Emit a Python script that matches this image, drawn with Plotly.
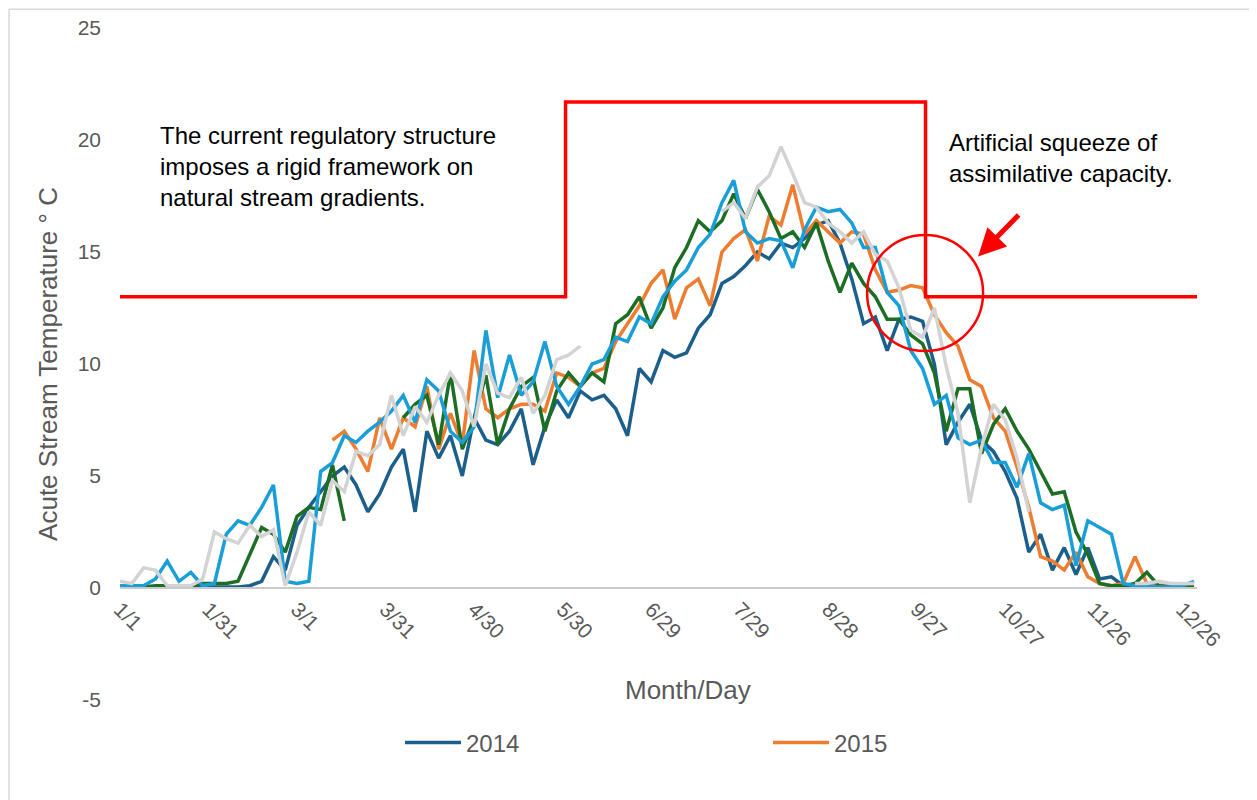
import plotly.graph_objects as go

# ---- data ----
days = list(range(0, 365, 4))  # day of year, 0 = 1/1

tick_days = [0, 30, 60, 90, 120, 150, 180, 210, 240, 270, 300, 330, 360]
tick_labels = ['1/1', '1/31', '3/1', '3/31', '4/30', '5/30', '6/29', '7/29',
               '8/28', '9/27', '10/27', '11/26', '12/26']
y_ticks = [-5, 0, 5, 10, 15, 20, 25]
y_tick_labels = ['-5', '0', '5', '10', '15', '20', '25']

temp_2014 = [0.05]*11 + [
    0.1, 0.3, 1.4, 0.8, 2.8, 3.6, 4.3, 5.0, 5.4, 4.6, 3.4, 4.2, 5.4, 6.2, 3.4, 7.0,
    5.8, 6.8, 5.0, 7.6, 6.6, 6.4, 7.0, 8.0, 5.5, 7.2, 8.4, 7.6, 8.8, 8.4, 8.6, 8.0,
    6.8, 9.8, 9.2, 10.6, 10.3, 10.5, 11.6, 12.2, 13.6, 13.9, 14.4, 15.0, 14.7, 15.4,
    15.2, 15.6, 16.2, 16.4, 15.4, 13.8, 11.8, 12.1, 10.6, 12.0, 12.1, 11.9, 10.0,
    6.4, 7.4, 8.2, 6.6, 6.1, 5.2, 4.0, 1.6, 2.4, 0.8, 1.8, 0.6, 1.8, 0.4, 0.5] + [0.1]*7

temp_2015 = [None]*18 + [
    6.6, 7.0, 6.2, 5.2, 7.6, 6.2, 7.6, 7.2, 9.0, 6.2, 7.8, 6.4, 10.6, 8.0, 7.6, 8.0,
    8.2, 8.2, 7.9, 9.6, 9.4, 9.0, 9.6, 9.8, 11.0, 11.8, 12.6, 13.6, 14.2, 12.0, 13.4,
    13.8, 12.6, 15.0, 15.6, 16.0, 14.6, 16.6, 16.2, 18.0, 15.8, 16.4, 15.9, 15.4,
    15.9, 15.8, 14.2, 13.2, 13.3, 13.5, 13.4, 12.2, 11.4, 10.8, 9.3, 9.0, 7.6, 7.0,
    5.4, 3.6, 1.4, 1.2, 0.8, 1.6, 0.5, 0.2, 0.1, 0.2, 1.4, 0.2, 0.1, 0.2, 0.1, 0.1]

temp_green = [
    0.05, 0.05, 0.05, 0.1, 0.1, 0.1, 0.1, 0.2, 0.2, 0.2, 0.3, 1.5, 2.7, 2.4, 1.6, 3.2,
    3.6, 3.5, 5.5, 3.0, None, None, None, None, 7.6, 8.2, 8.6, 6.4, 9.6, 6.2, 7.6, 9.5,
    6.4, 8.0, 9.0, 9.4, 7.0, 8.8, 9.6, 9.0, 9.6, 9.2, 11.8, 12.2, 13.0, 11.6, 12.5,
    14.3, 15.2, 16.4, 15.9, 16.4, 17.6, 16.5, 17.8, 16.8, 15.6, 15.9, 15.2, 16.3,
    14.6, 13.2, 14.5, 13.6, 13.0, 12.0, 12.0, 11.3, 10.9, 9.6, 7.0, 8.9, 8.9, 6.0,
    7.3, 8.0, 7.0, 6.2, 5.2, 4.2, 4.3, 2.5, 1.5, 0.2, 0.1, 0.1, 0.2, 0.7, 0.1, 0.05,
    0.05, 0.05]

temp_lightblue = [
    0.1, 0.1, 0.1, 0.4, 1.2, 0.3, 0.7, 0.1, 0.2, 2.4, 3.0, 2.8, 3.6, 4.6, 0.3, 0.2,
    0.3, 5.2, 5.6, 6.8, 6.5, 7.0, 7.4, 7.9, 8.6, 7.4, 9.3, 8.8, 7.0, 6.5, 7.2, 11.5,
    8.5, 10.4, 8.6, 9.2, 11.0, 9.0, 8.2, 9.0, 10.0, 10.2, 11.2, 11.0, 12.1, 11.8,
    13.0, 13.7, 14.2, 15.2, 15.8, 17.2, 18.2, 15.9, 15.4, 15.6, 15.5, 14.3, 16.0,
    17.0, 16.8, 16.9, 16.3, 15.2, 15.2, 13.2, 12.6, 10.6, 9.8, 8.2, 8.6, 6.7, 6.4,
    6.6, 5.6, 5.6, 4.5, 6.0, 3.8, 3.5, 3.7, 1.0, 3.0, 2.7, 2.4, 0.2, 0.1, 0.1, 0.05,
    0.05, 0.1, 0.3]

temp_gray = [
    0.3, 0.2, 0.9, 0.8, 0.1, 0.1, 0.1, 0.4, 2.5, 2.2, 2.0, 2.8, 2.3, 2.6, 0.1, 1.6,
    3.4, 2.8, 4.8, 4.3, 6.1, 5.9, 6.4, 8.6, 6.8, 8.1, 7.4, 8.6, 9.6, 8.8, 7.2, 10.0,
    8.7, 8.5, 9.4, 7.8, 8.6, 10.2, 10.4, 10.8] + [None]*11 + [
    16.8, 17.2, 16.5, 17.9, 18.4, 19.7, 18.5, 17.2, 17.0, 16.3, 15.9, 15.4, 15.9,
    14.9, 14.6, 13.4, 11.5, 11.2, 12.5, 9.9, 7.8, 3.8, 6.3, 8.2, 7.5, 5.8, 3.4] + \
    [None]*8 + [0.2, 0.2, 0.3, 0.2, 0.2, 0.2]

limit_days = [0, 151, 151, 273, 273, 365]
limit_vals = [13, 13, 21.7, 21.7, 13, 13]

series = [
    ('2014', temp_2014, '#1b5f8a', True),
    ('2015', temp_2015, '#ed7d31', True),
    ('Series 3', temp_green, '#1c6e24', False),
    ('Series 4', temp_lightblue, '#1a9ed8', False),
    ('Series 5', temp_gray, '#d3d3d3', False),
]

FONT = 'Liberation Sans, Arial, sans-serif'
GREY_TXT = '#595959'

fig = go.Figure()
for name, vals, color, show in series:
    fig.add_trace(go.Scatter(x=days, y=vals, mode='lines', name=name,
                             line=dict(color=color, width=3.5),
                             showlegend=show, connectgaps=False))

fig.add_trace(go.Scatter(x=limit_days, y=limit_vals, mode='lines',
                         line=dict(color='#ff0000', width=3.5),
                         showlegend=False))

fig.update_layout(
    width=1249, height=792,
    margin=dict(l=112, r=60, t=20, b=100, autoexpand=False),
    paper_bgcolor='white', plot_bgcolor='white',
    font=dict(family=FONT, color=GREY_TXT),
    legend=dict(orientation='h', x=0.26, y=-0.064, xanchor='left', yanchor='middle',
                entrywidth=297, entrywidthmode='pixels', itemwidth=56,
                bgcolor='rgba(0,0,0,0)',
                font=dict(size=24, color=GREY_TXT, family=FONT)),
    xaxis=dict(range=[0, 365], tickvals=tick_days, ticktext=tick_labels,
               tickangle=45, showgrid=False, zeroline=False,
               showline=True, linecolor='#c9c9c9', linewidth=2,
               anchor='free', position=1/6, ticks='',
               tickfont=dict(size=21, color=GREY_TXT, family=FONT)),
    yaxis=dict(range=[-5, 25], tickvals=y_ticks, ticktext=y_tick_labels,
               showgrid=False, zeroline=False, showline=False, ticks='',
               ticklabelstandoff=18,
               tickfont=dict(size=21, color=GREY_TXT, family=FONT),
               title=dict(text='Acute Stream Temperature ° C', standoff=12,
                          font=dict(size=26, color=GREY_TXT, family=FONT))),
)

# circle highlighting the squeeze
fig.add_shape(type='circle', xref='x', yref='y', x0=253.2, x1=292.5, y0=10.58, y1=15.76,
              line=dict(color='#ff0000', width=2.5))

# chart border
fig.add_shape(type='rect', xref='paper', yref='paper', x0=-0.103, x1=1.08,
              y0=-0.17, y1=1.028, line=dict(color='#d9d9d9', width=1.5), layer='below')

fig.add_annotation(x=290.8, y=14.8, xref='x', yref='y', ax=42, ay=-43,
                   showarrow=True, arrowhead=2, arrowsize=1.1, arrowwidth=5,
                   arrowcolor='#ff0000', text='')

fig.add_annotation(x=12.9, y=20.9, xref='x', yref='y', xanchor='left', yanchor='top',
                   align='left', showarrow=False,
                   text='The current regulatory structure<br>imposes a rigid framework on<br>natural stream gradients.',
                   font=dict(size=24, color='black', family=FONT))
fig.add_annotation(x=280.3, y=20.6, xref='x', yref='y', xanchor='left', yanchor='top',
                   align='left', showarrow=False,
                   text='Artificial squeeze of<br>assimilative capacity.',
                   font=dict(size=24, color='black', family=FONT))
fig.add_annotation(x=0.527, y=0.015, xref='paper', yref='paper', xanchor='center',
                   yanchor='middle', showarrow=False, text='Month/Day',
                   font=dict(size=26, color=GREY_TXT, family=FONT))

fig.write_html('out.html')
